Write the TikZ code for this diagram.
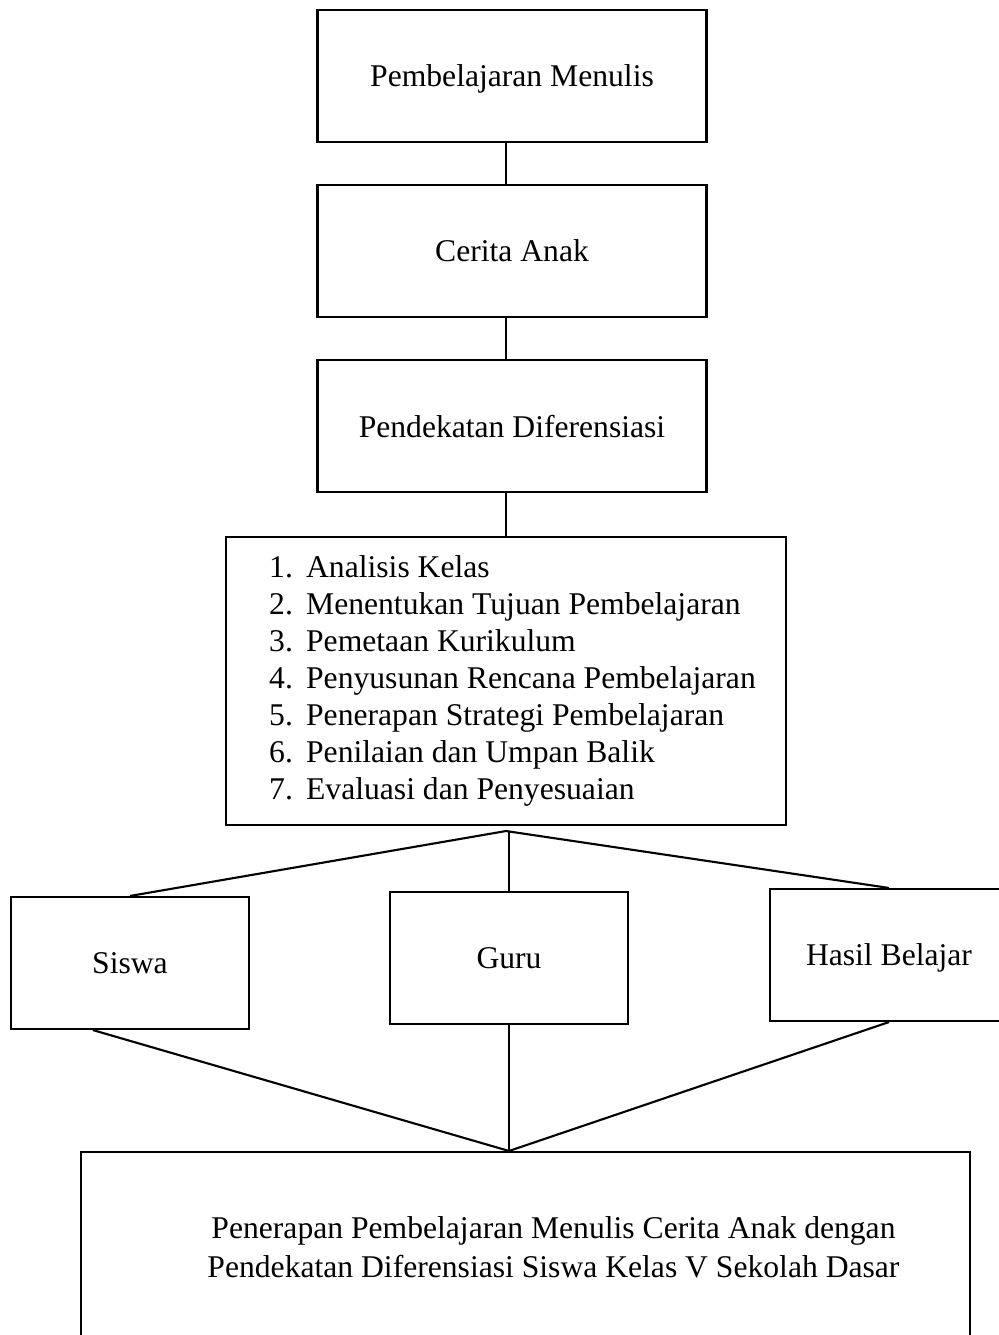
\documentclass[tikz,border=0pt]{standalone}
\usepackage{fontspec}
\setmainfont{Liberation Serif}
\usetikzlibrary{positioning}
\newcommand{\ukuran}{\fontsize{18}{20.9}\selectfont}

\begin{document}
\begin{tikzpicture}[x=0.02cm, y=-0.02cm]
\tikzstyle{kotak}=[draw, line width=1.2pt, minimum width=7.78cm, minimum height=2.64cm, inner sep=0pt, text depth=0pt, font=\ukuran]
\tikzstyle{kecil}=[kotak, minimum width=4.76cm]
\tikzstyle{garis}=[line width=1.2pt]
\useasboundingbox (0,0) rectangle (998,1335);
	\node[kotak] (PM) at (512,76) {Pembelajaran Menulis};
	\node[kotak, node distance=3.5cm, below of=PM] (CA) {Cerita Anak};
	\node[kotak, node distance=3.5cm, below of=CA] (PD) {Pendekatan Diferensiasi};
	\node[draw, line width=1.2pt, minimum width=11.2cm, minimum height=5.76cm, inner sep=0pt, font={\fontsize{18}{21.1}\selectfont}] (LK) at (506,681) {\begin{tabular}{@{\hspace{0.26cm}}p{0.74cm}@{}l@{}}
		1. & Analisis Kelas\\
		2. & Menentukan Tujuan Pembelajaran\\
		3. & Pemetaan Kurikulum\\
		4. & Penyusunan Rencana Pembelajaran\\
		5. & Penerapan Strategi Pembelajaran\\
		6. & Penilaian dan Umpan Balik\\
		7. & Evaluasi dan Penyesuaian
	\end{tabular}};
	\node[kecil] (SW) at (130,963) {Siswa};
	\node[kecil] (GR) at (509,958) {Guru};
	\node[kecil] (HB) at (889,955) {Hasil Belajar};
	\node[draw, line width=1.2pt, minimum width=17.78cm, minimum height=3.92cm, font={\fontsize{18}{22.2}\selectfont}] (PB) at (525.5,1250) {\hspace*{1.12cm}\begin{tabular}{@{}c@{}}Penerapan Pembelajaran Menulis Cerita Anak dengan\\ Pendekatan Diferensiasi Siswa Kelas V Sekolah Dasar\end{tabular}};

	\coordinate[below=0.1cm of LK] (split);
	\coordinate (meet) at (GR.south |- PB.north);

	\draw[garis] (PM.south -| LK) -- (CA.north -| LK);
	\draw[garis] (CA.south -| LK) -- (PD.north -| LK);
	\draw[garis] (PD.south -| LK) -- (LK.north);
	\draw[garis] (split) -- (SW.north);
	\draw[garis] (split -| GR) -- (GR.north);
	\draw[garis] (split) -- (HB.north);
	\draw[garis] (SW.-119) -- (meet);
	\draw[line width=0.6pt] (GR.south) -- (meet);
	\draw[garis] (HB.south) -- (meet);
\end{tikzpicture}
\end{document}
